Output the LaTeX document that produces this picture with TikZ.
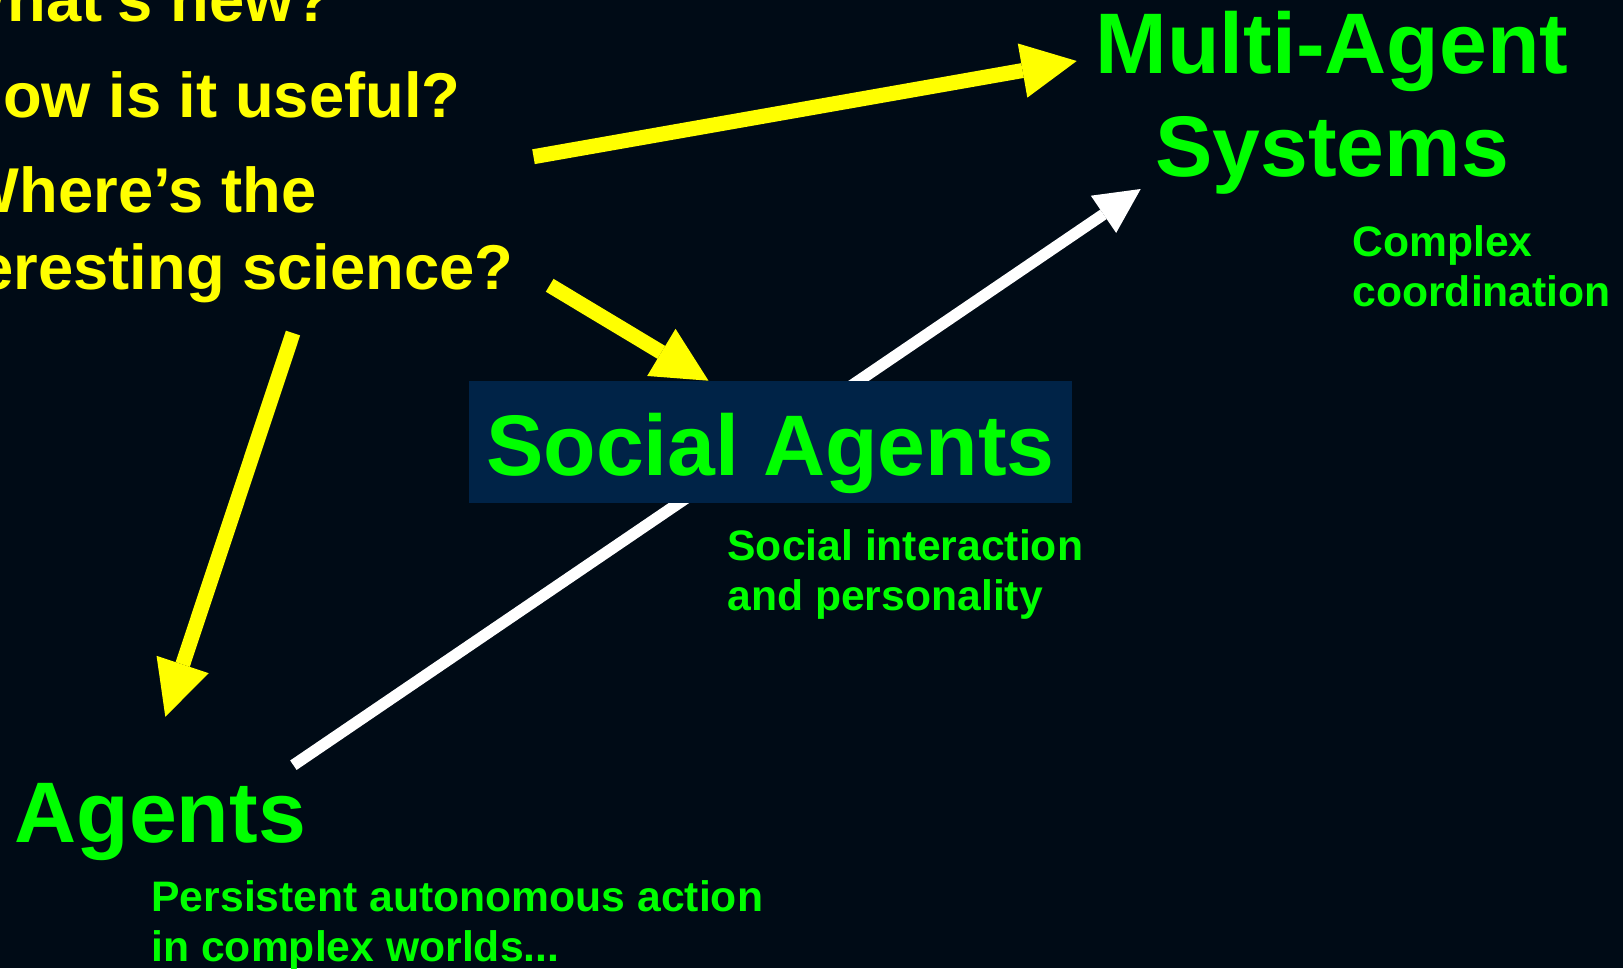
\documentclass[tikz,border=0pt]{standalone}
\usepackage{fontspec}
\setmainfont{Liberation Sans}
\usetikzlibrary{arrows.meta}

\definecolor{slidebg}{RGB}{0,11,22}
\definecolor{boxblue}{RGB}{0,35,71}
\definecolor{agentgreen}{RGB}{0,255,0}
\definecolor{askyellow}{RGB}{255,255,0}

\tikzset{every picture/.style={line width=0.75pt}}
\tikzset{
  big title/.style={text=agentgreen, inner sep=0pt, font=\fontsize{64.5}{77.4}\selectfont\bfseries},
  small note/.style={text=agentgreen, inner sep=0pt, font=\fontsize{32}{38.4}\selectfont\bfseries},
  question/.style={text=askyellow, inner sep=0pt, font=\fontsize{47.5}{57}\selectfont\bfseries},
  yellow arrow/.style={draw=askyellow, line width=11.25pt, -{Triangle[length=41.25pt,width=41.25pt,line width=0pt]}},
  white arrow/.style={draw=white, line width=8.6pt, -{Triangle[length=33.75pt,width=33.75pt,line width=0pt]}},
}

\begin{document}
\begin{tikzpicture}[x=0.75pt,y=0.75pt,yscale=-1,xscale=1]
\useasboundingbox (0,0) rectangle (1623,968);
\clip (0,0) rectangle (1623,968);

%Background
\fill [slidebg] (0,0) rectangle (1623,968);

%Arrow ends
\coordinate (askTop) at (533.5,156.7);
\coordinate (masTip) at (1076.7,61);
\coordinate (askMid) at (549.7,285.3);
\coordinate (socialTip) at (708.5,380.7);
\coordinate (askLow) at (293,333);
\coordinate (agentsTip) at (165.3,716.7);
\coordinate (agentsEnd) at (293.4,765.2);
\coordinate (masLow) at (1140.7,189);

%White Line (goes behind the box)
\draw [white arrow] (agentsEnd) -- (masLow);

% Box Node
\draw (770.5,475) node (social) [anchor=base, fill=boxblue, minimum width=452.25pt, text height=70.5pt, text depth=21pt, big title] {Social Agents};

%Yellow Lines
\draw [yellow arrow] (askTop) -- (masTip);
\draw [yellow arrow] (askMid) -- (socialTip);
\draw [yellow arrow] (askLow) -- (agentsTip);

% Question Nodes
\draw (333,21) node (qNew) [anchor=base east, question] {What’s new?};
\draw (461,117) node (qUseful) [anchor=base east, question] {How is it useful?};
\draw (317,212) node (qWhere) [anchor=base east, question] {Where’s the};
\draw (514,289) node (qScience) [anchor=base east, question] {interesting science?};

% Title Nodes
\draw (1332,73.3) node (masOne) [anchor=base, big title] {Multi-Agent};
\draw (1332,176) node (masTwo) [anchor=base, big title] {Systems};
\draw (14,842) node (agents) [anchor=base west, big title] {Agents};

% Note Nodes
\draw (1352,256) node (masNoteOne) [anchor=base west, small note] {Complex};
\draw (1352,306.7) node (masNoteTwo) [anchor=base west, small note] {coordination};
\draw (727,560) node (socialNoteOne) [anchor=base west, small note] {Social interaction};
\draw (727,610) node (socialNoteTwo) [anchor=base west, small note] {and personality};
\draw (151,911.7) node (agentsNoteOne) [anchor=base west, small note] {Persistent autonomous action};
\draw (151,961.7) node (agentsNoteTwo) [anchor=base west, small note] {in complex worlds...};

\end{tikzpicture}
\end{document}
